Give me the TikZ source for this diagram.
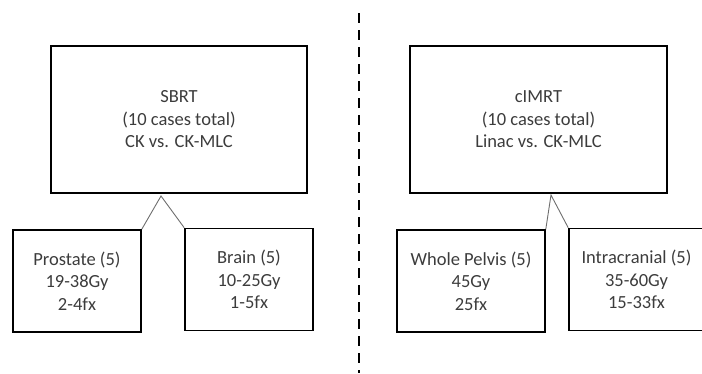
\documentclass[tikz,border=0pt]{standalone}
\usepackage{fontspec}
\setmainfont{Carlito}
\usepackage{xcolor}
\definecolor{txtgray}{RGB}{60,60,60}
\definecolor{linkgray}{RGB}{110,110,110}
\usepackage{tikz}
\usetikzlibrary{arrows.meta,positioning,calc}

\begin{document}
\begin{tikzpicture}[x=1pt, y=-1pt,
  groupbox/.style={draw=black, line width=1.6pt, inner sep=0pt, align=center,
    text=txtgray, font=\fontsize{18.5}{22.5}\selectfont, minimum height=147pt},
  casebox/.style={groupbox, minimum height=102pt},
  link/.style={linkgray, line width=0.9pt}]
\useasboundingbox (0,0) rectangle (702,373);
% divider between the two studies
\coordinate (divtop) at (359,13);
\coordinate (divbot) at (359,373);
\draw[line width=2.4pt, dash pattern=on 10pt off 7pt] (divtop) -- (divbot);
% SBRT side
\node[groupbox, minimum width=256pt] (sbrt) at (179,119.5) {SBRT\\(10 cases total)\\CK vs. CK-MLC};
\node[casebox, minimum width=128pt] (prostate) at (77,281) {Prostate (5)\\19-38Gy\\2-4fx};
\node[casebox, minimum width=128pt] (brain) at (249,279.5) {Brain (5)\\10-25Gy\\1-5fx};
\coordinate (sbrttip) at (161,196);
\draw[link] (prostate.north east) -- (sbrttip) -- (brain.north west);
% cIMRT side
\node[groupbox, minimum width=257pt] (cimrt) at (538.5,119.5) {cIMRT\\(10 cases total)\\Linac vs. CK-MLC};
\node[casebox, minimum width=148pt] (pelvis) at (471,281) {Whole Pelvis (5)\\45Gy\\25fx};
\node[casebox, minimum width=135pt] (intracran) at (636.5,279.5) {Intracranial (5)\\35-60Gy\\15-33fx};
\coordinate (cimrttip) at (551,195);
\draw[link] (pelvis.north east) -- (cimrttip) -- (intracran.north west);
\end{tikzpicture}
\end{document}
